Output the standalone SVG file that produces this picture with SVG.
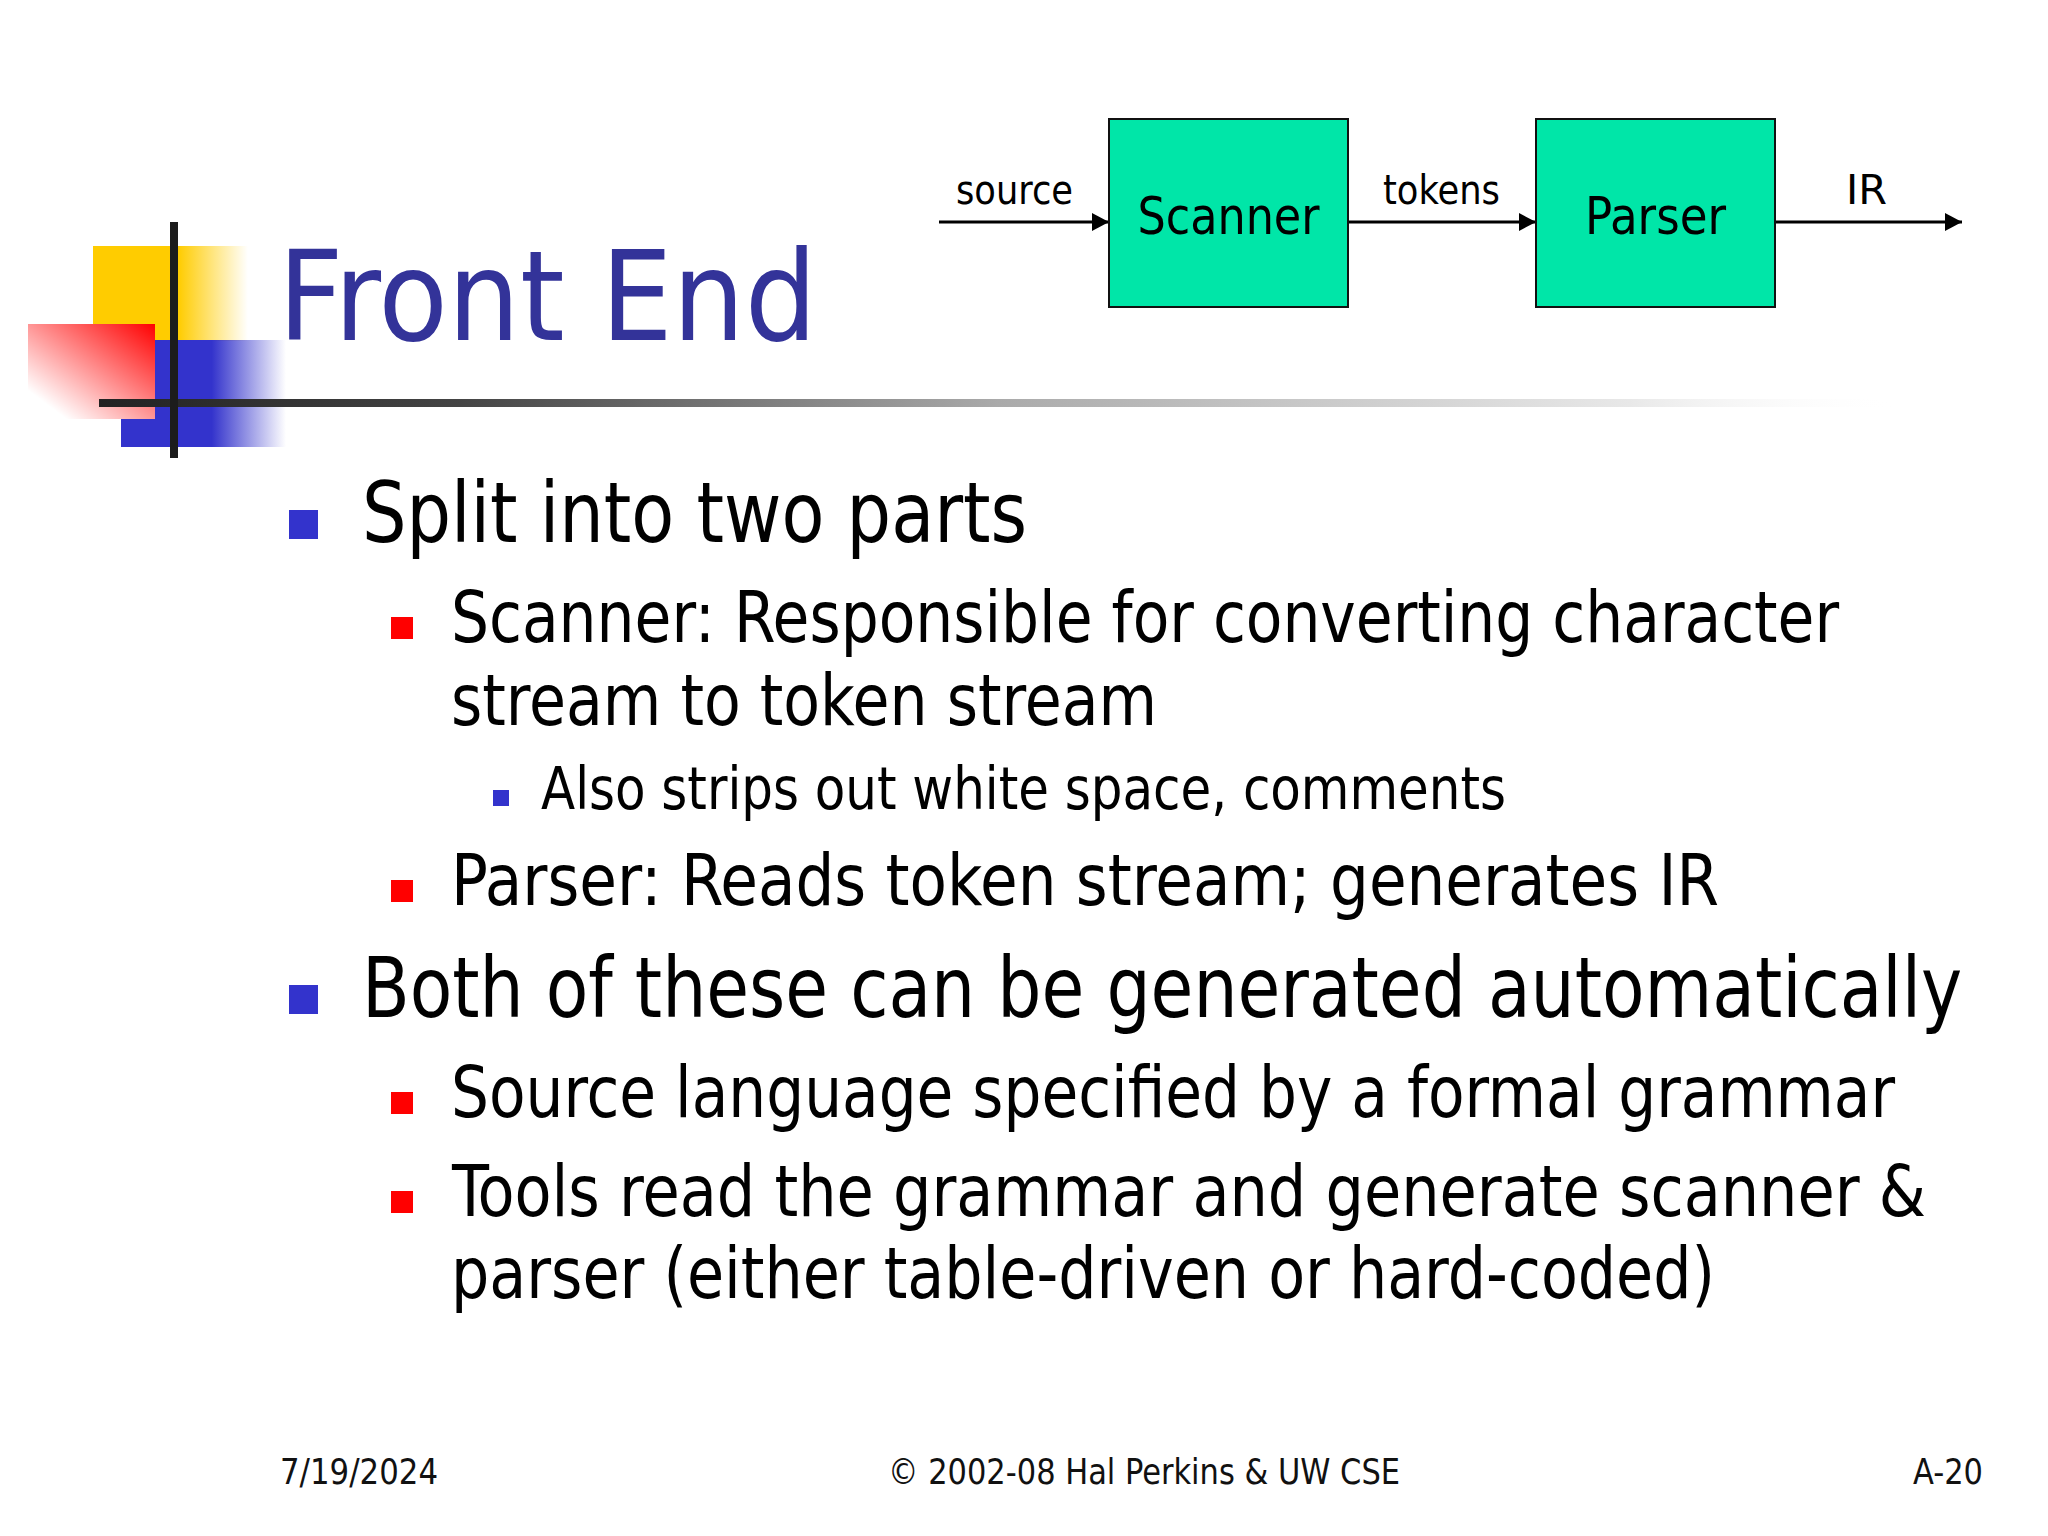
<svg xmlns="http://www.w3.org/2000/svg" width="2048" height="1536" viewBox="0 0 2048 1536">
<style>
text{font-family:"DejaVu Sans","Liberation Sans",sans-serif;font-stretch:condensed;fill:#000}
.l1{font-size:84px}.l2{font-size:71px}.l3{font-size:59px}.ft{font-size:36px;fill:#111}.lb{font-size:40px}.nd{font-size:52px}
.nb{fill:#00E6A8;stroke:#111;stroke-width:2}
.c{stroke:#000;stroke-width:3;fill:none;marker-end:url(#a)}
.b1{fill:#3333CC}.b2{fill:#FF0000}
</style>
<defs>
<marker id="a" markerUnits="userSpaceOnUse" markerWidth="17" markerHeight="18" refX="17" refY="9" orient="auto"><path d="M0 0L17 9L0 18Z" fill="#000"/></marker>
<linearGradient id="gy"><stop offset="0" stop-color="#FFCC00"/><stop offset=".55" stop-color="#FFCC00"/><stop offset="1" stop-color="#FFCC00" stop-opacity="0"/></linearGradient>
<linearGradient id="gb"><stop offset="0" stop-color="#3333CC"/><stop offset=".55" stop-color="#3333CC"/><stop offset="1" stop-color="#3333CC" stop-opacity="0"/></linearGradient>
<linearGradient id="gr" x1="1" y1="0" x2="0" y2="1"><stop offset="0" stop-color="#FF0000"/><stop offset=".85" stop-color="#FF0000" stop-opacity="0"/></linearGradient>
<linearGradient id="gl"><stop offset="0" stop-color="#222"/><stop offset=".2" stop-color="#444"/><stop offset=".5" stop-color="#aaa"/><stop offset=".85" stop-color="#e8e8e8"/><stop offset="1" stop-color="#fff" stop-opacity="0"/></linearGradient>
</defs>
<rect width="2048" height="1536" fill="#fff"/>
<g id="logo">
<rect x="93" y="246" width="155" height="95" fill="url(#gy)"/>
<rect x="121" y="340" width="165" height="107" fill="url(#gb)"/>
<rect x="28" y="324" width="127" height="95" fill="#fff"/>
<rect x="28" y="324" width="127" height="95" fill="url(#gr)"/>
<rect x="99" y="399" width="1800" height="8" fill="url(#gl)"/>
<rect x="170" y="222" width="8" height="236" fill="#1c1c1c"/>
</g>
<text id="title" x="278" y="340" font-size="125" style="fill:#333399" textLength="539" lengthAdjust="spacingAndGlyphs">Front End</text>
<g id="connectors">
<path class="c" d="M939 222H1109"/>
<path class="c" d="M1349 222H1536"/>
<path class="c" d="M1776 222H1962"/>
</g>
<g id="scanner"><rect class="nb" x="1109" y="119" width="239" height="188"/><text class="nd" x="1228.500" y="234" text-anchor="middle" textLength="182" lengthAdjust="spacingAndGlyphs">Scanner</text></g>
<g id="parser"><rect class="nb" x="1536" y="119" width="239" height="188"/><text class="nd" x="1655.500" y="234" text-anchor="middle" textLength="141" lengthAdjust="spacingAndGlyphs">Parser</text></g>
<g id="labels">
<text class="lb" x="956" y="204" textLength="117" lengthAdjust="spacingAndGlyphs">source</text>
<text class="lb" x="1383" y="204" textLength="117" lengthAdjust="spacingAndGlyphs">tokens</text>
<text class="lb" x="1846" y="204" textLength="41" lengthAdjust="spacingAndGlyphs">IR</text>
</g>
<g id="bullets">
<rect class="b1" x="289" y="510" width="29" height="29"/>
<rect class="b2" x="391" y="617" width="22" height="22"/>
<rect class="b1" x="493" y="790" width="16" height="16"/>
<rect class="b2" x="391" y="880" width="22" height="22"/>
<rect class="b1" x="289" y="985" width="29" height="29"/>
<rect class="b2" x="391" y="1092" width="22" height="22"/>
<rect class="b2" x="391" y="1191" width="22" height="22"/>
</g>
<g id="body">
<text class="l1" x="362" y="542" textLength="665" lengthAdjust="spacingAndGlyphs">Split into two parts</text>
<text class="l2" x="451" y="642" textLength="1388" lengthAdjust="spacingAndGlyphs">Scanner: Responsible for converting character</text>
<text class="l2" x="451" y="725" textLength="706" lengthAdjust="spacingAndGlyphs">stream to token stream</text>
<text class="l3" x="541" y="809" textLength="965" lengthAdjust="spacingAndGlyphs">Also strips out white space, comments</text>
<text class="l2" x="451" y="905" textLength="1268" lengthAdjust="spacingAndGlyphs">Parser: Reads token stream; generates IR</text>
<text class="l1" x="0" y="0" transform="translate(362 1017) scale(.9 1)" textLength="1778" lengthAdjust="spacingAndGlyphs">Both of these can be generated automatically</text>
<text class="l2" x="451" y="1117" textLength="1444" lengthAdjust="spacingAndGlyphs">Source language specified by a formal grammar</text>
<text class="l2" x="452" y="1216" textLength="1474" lengthAdjust="spacingAndGlyphs">Tools read the grammar and generate scanner &amp;</text>
<text class="l2" x="451" y="1298" textLength="1264" lengthAdjust="spacingAndGlyphs">parser (either table-driven or hard-coded)</text>
</g>
<g id="footer">
<text class="ft" x="280" y="1484" textLength="158" lengthAdjust="spacingAndGlyphs">7/19/2024</text>
<text class="ft" x="888" y="1484" textLength="512" lengthAdjust="spacingAndGlyphs">© 2002-08 Hal Perkins &amp; UW CSE</text>
<text class="ft" x="1913" y="1484" textLength="70" lengthAdjust="spacingAndGlyphs">A-20</text>
</g>
</svg>
